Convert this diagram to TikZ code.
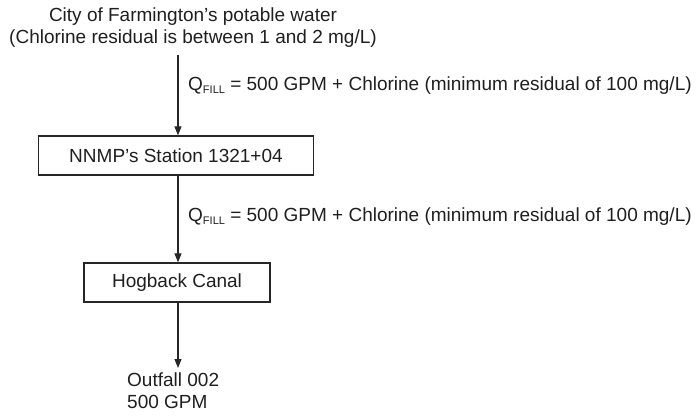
\documentclass[tikz,border=0pt]{standalone}
\usepackage{fontspec}
\setmainfont{Liberation Sans}
\usetikzlibrary{arrows.meta}
\newcommand{\qfill}{Q\raisebox{-0.25ex}{\fontsize{11}{11}\selectfont FILL}}
\begin{document}
\begin{tikzpicture}[x=1pt,y=-1pt,
  every node/.style={text=black!88},
  txt/.style={font=\fontsize{19}{22}\selectfont, inner sep=0pt},
  box/.style={draw=black!85, line width=1.3pt, minimum height=39pt, inner sep=0pt, font=\fontsize{19}{22}\selectfont},
  flow/.style={draw=black!85, -{Triangle[length=9pt,width=7pt]}, line width=1.1pt},
  lbl/.style={txt, anchor=west}]
\useasboundingbox (0,0) rectangle (696,417);
\node[txt, align=center] (src) at (193,28) {City of Farmington's potable water\\(Chlorine residual is between 1 and 2 mg/L)};
\node[box, minimum width=275pt] (st) at (176,155.5) {NNMP's Station 1321+04};
\node[box, minimum width=186pt] (hog) at (177,282.5) {Hogback Canal};
\coordinate (a1) at (178,55);
\coordinate (a3) at (178,368);
\node[txt, align=left, anchor=west] (out) at (127,391) {Outfall 002\\500 GPM};
\draw[flow] (a1) -- (a1 |- st.north);
\draw[flow] (a1 |- st.south) -- (a1 |- hog.north);
\draw[flow] (a1 |- hog.south) -- (a3);
\node[lbl] (l1) at (188,86) {\qfill{} = 500 GPM + Chlorine (minimum residual of 100 mg/L)};
\node[lbl] (l2) at (188,217) {\qfill{} = 500 GPM + Chlorine (minimum residual of 100 mg/L)};
\end{tikzpicture}
\end{document}
